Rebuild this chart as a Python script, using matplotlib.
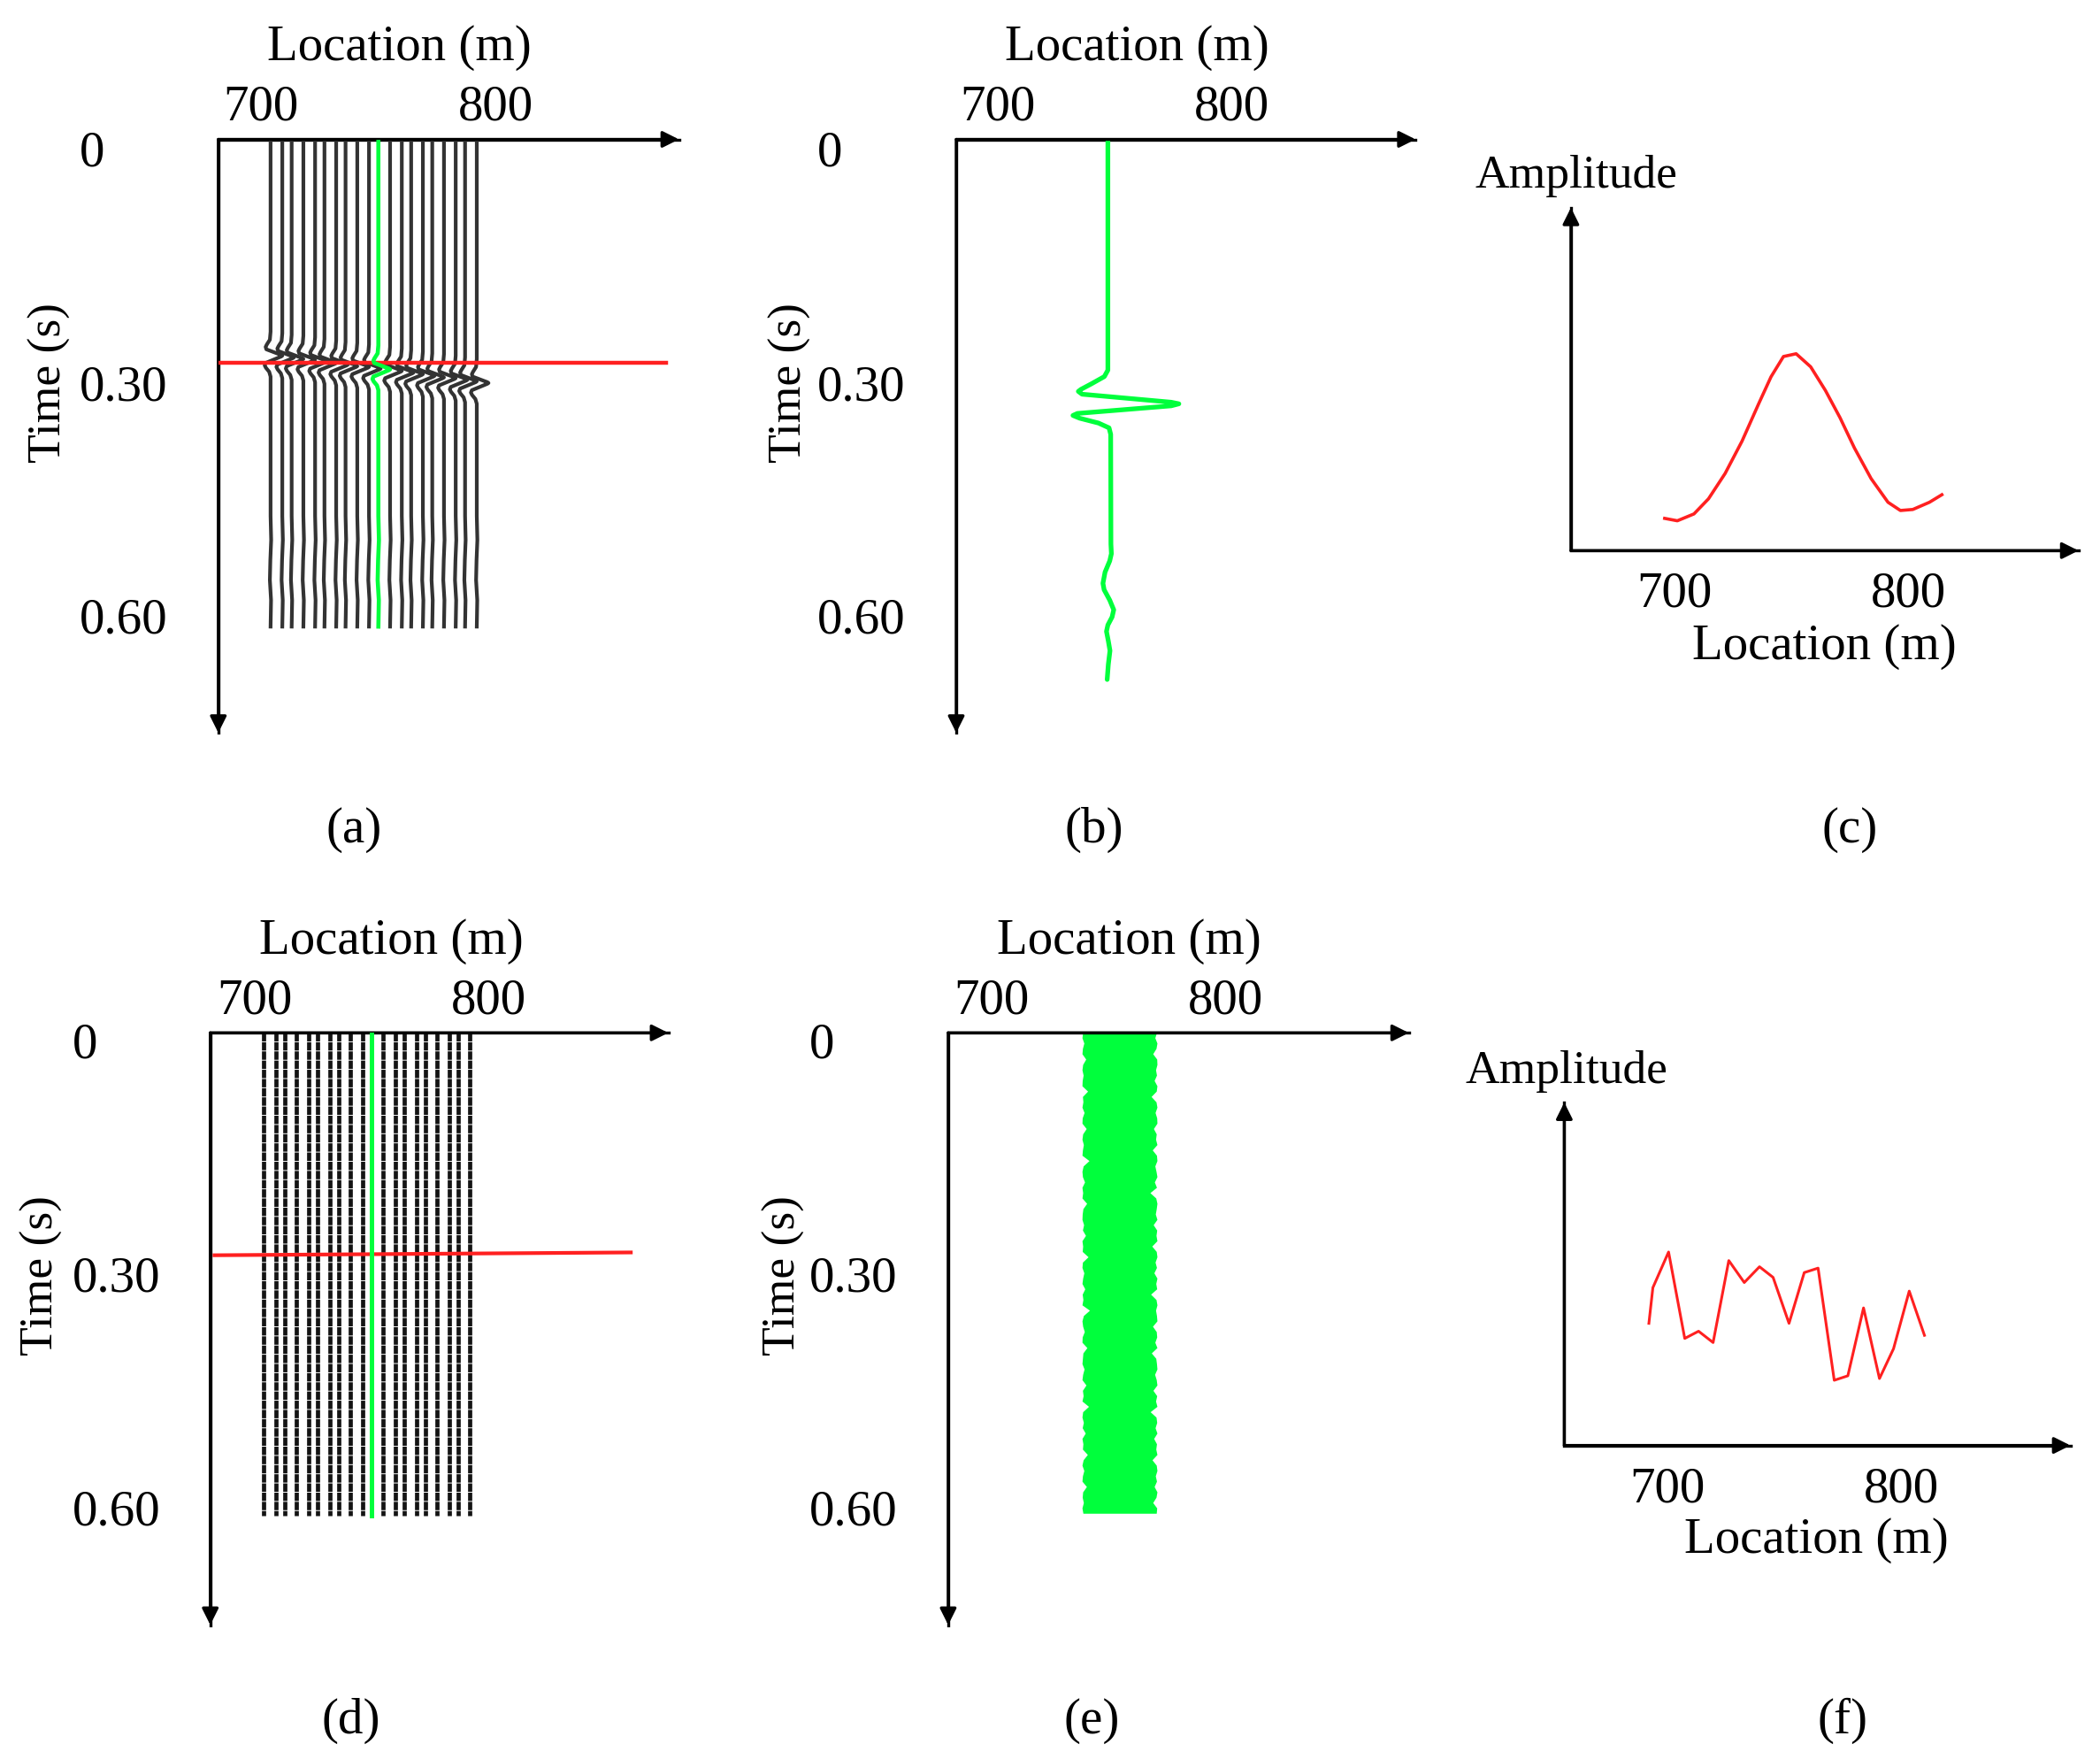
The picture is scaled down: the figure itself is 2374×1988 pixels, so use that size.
import numpy as np
import matplotlib
matplotlib.use("Agg")
import matplotlib.pyplot as plt
from matplotlib import transforms

plt.rcParams['font.family'] = ['Liberation Serif', 'DejaVu Serif']

W, H = 2374, 1988

# ---- data ----
# trace locations (m) for panels (a) and (d); index 10 is the green trace
trace_x = [704, 709, 713, 718, 723, 727, 732, 736, 741, 746,
           750, 755, 760, 764, 769, 773, 778, 783, 787, 792]
green_idx = 10
# time of the wavelet peak on each trace in (a), s
event_t = [0.270, 0.272, 0.274, 0.275, 0.277, 0.279, 0.281, 0.283, 0.284, 0.286,
           0.287, 0.289, 0.291, 0.293, 0.295, 0.297, 0.298, 0.300, 0.302, 0.304]
# wavelet on the (a) traces: time relative to the peak (s), offset (m)
a_dt = [-0.030, -0.020, -0.014, -0.011, -0.008, -0.001, 0.0, 0.001, 0.009, 0.012, 0.015, 0.020, 0.026]
a_amp = [0, -0.3, -1.6, -2.1, -1.8, 4.5, 5.0, 4.5, -2.1, -2.5, -2.0, -0.6, 0]
a_tail_t = [0.47, 0.50, 0.525, 0.55, 0.575, 0.608]
a_tail_amp = [0, 0.25, -0.1, -0.3, 0.2, 0]
a_red_t = 0.279
a_red_x = [681.7, 872.6]

# panel (b): single green trace
b_x = 747
b_t = [0.0, 0.288, 0.296, 0.305, 0.312, 0.3145, 0.318, 0.328, 0.330, 0.3325, 0.342,
       0.3445, 0.348, 0.354, 0.360, 0.368, 0.505, 0.517, 0.526, 0.540, 0.554, 0.562,
       0.575, 0.587, 0.596, 0.606, 0.614, 0.626, 0.638, 0.655, 0.674]
b_amp = [0, 0, -1.5, -7, -11.5, -12.6, -11, 27, 30.3, 27, -13,
         -14.9, -12, -4, 0.5, 1.2, 1.3, 1.5, 0.8, -1.2, -2.1, -1.6, 0.8, 2.5,
         1.8, 0.0, -0.6, 0.2, 0.9, 0.2, -0.3]

# panel (c): amplitude along the red line
c_loc = [696.0, 701.4, 708.5, 714.7, 721.8, 729.0, 736.1, 741.4, 746.7, 752.1,
         758.3, 764.6, 770.8, 777.0, 784.1, 791.3, 796.6, 801.9, 809.0, 814.3]
c_amp = [0.094, 0.087, 0.107, 0.151, 0.225, 0.319, 0.428, 0.507, 0.566, 0.574,
         0.536, 0.467, 0.388, 0.299, 0.210, 0.141, 0.117, 0.120, 0.141, 0.163]

# panel (d): noisy traces end time and red line
d_end_t = 0.603
d_red_x = [682.9, 860.6]
d_red_t = [0.2775, 0.274]

# panel (e): edges of the green noise band (m, measured inward)
e_left0, e_right0, e_end_t = 739.0, 771.0, 0.600
e_left_in = [0.3, 0, 0.8, 0.2, 0, 1.6, 0.3, 0, 0.5, 0.1, 0, 2.4, 0.2, 0.4, 0, 0.9, 0.1, 0,
             1.8, 0.3, 0, 0.6, 0.2, 0, 3.0, 0.5, 0, 0.2, 1.1, 0, 0.3, 0, 2.0, 0.4, 0.1, 0,
             0.7, 0.2, 1.5, 0, 0.3, 0.1, 2.6, 0.2, 0, 0.8, 0.3, 0, 1.2, 0.1, 0.4, 0, 3.2,
             0.6, 0, 0.3, 1.0, 0.1, 0, 2.1, 0.4, 0.2, 0, 0.9, 0.3, 0, 1.7, 0.2, 0.5, 0, 2.8,
             0.3, 0, 0.6, 0.1, 1.4, 0, 0.4, 0.2, 2.3, 0.5, 0, 0.8, 0.2, 0, 1.9, 0.3, 0.1,
             0.6, 0, 0.4]
e_right_in = [0.2, 0.9, 0, 0.4, 1.8, 0.1, 0, 0.6, 0.2, 1.2, 0, 0.3, 2.5, 0.4, 0, 0.8, 0.1,
              0, 1.5, 0.3, 0.6, 0, 2.0, 0.2, 0, 0.9, 0.4, 0, 1.1, 0.2, 3.0, 0.5, 0, 0.3, 0.7,
              0, 1.6, 0.1, 0.4, 0, 2.2, 0.3, 0, 0.8, 0.2, 1.3, 0, 0.5, 0.1, 2.7, 0.4, 0, 0.6,
              0.2, 0, 1.9, 0.3, 0.1, 0.9, 0, 2.4, 0.5, 0.2, 0, 1.0, 0.3, 0, 1.7, 0.1, 0.6, 0,
              2.9, 0.4, 0.1, 0.8, 0, 1.4, 0.2, 0.5, 0, 2.1, 0.3, 0, 0.7, 0.2, 1.2, 0, 0.4, 1.8,
              0.1, 0.3]

# panel (f): amplitude along the red line
f_loc = [692.1, 693.8, 700.5, 707.4, 713.3, 719.5, 726.2, 732.8, 739.3, 745.1,
         751.9, 758.4, 764.3, 771.2, 777.0, 783.7, 790.5, 796.5, 803.2, 809.7]
f_amp = [0.356, 0.460, 0.564, 0.312, 0.333, 0.300, 0.539, 0.475, 0.521, 0.490,
         0.356, 0.504, 0.517, 0.190, 0.203, 0.401, 0.195, 0.282, 0.450, 0.321]

GREEN = '#00ff3c'
RED = '#ff2020'
FS = 41
FS2 = 38.5
DY = 4  # small downward nudge for all texts, px

fig = plt.figure(figsize=(W / 100, H / 100), dpi=100)
fig.patch.set_facecolor('white')


def panel(box, xlim, ylim, top_axis=True):
    l, t, r, b = box
    ax = fig.add_axes([l / W, 1 - b / H, (r - l) / W, (b - t) / H])
    ax.set_xlim(xlim)
    ax.set_ylim(ylim)
    ax.axis('off')
    arrow = dict(arrowstyle='-|>', color='black', lw=2.4, mutation_scale=28,
                 shrinkA=0, shrinkB=0)
    oy = 1 if top_axis else 0
    ty = 0 if top_axis else 1
    ax.plot([0, 0, 1], [ty, oy, oy], color='black', lw=2.4, transform=ax.transAxes,
            clip_on=False, solid_capstyle='projecting', solid_joinstyle='miter')
    ax.annotate('', xy=(1, oy), xytext=(0, oy), xycoords='axes fraction', arrowprops=arrow)
    ax.annotate('', xy=(0, ty), xytext=(0, oy), xycoords='axes fraction', arrowprops=arrow)
    return ax


def ptext(x, y, s, size=FS, **kw):
    fig.text(x / W, 1 - (y + DY) / H, s, fontsize=size, ha=kw.pop('ha', 'center'),
             va=kw.pop('va', 'center'), **kw)


def xtick(ax, xval, ypx, s):
    tr = transforms.blended_transform_factory(ax.transData, fig.transFigure)
    ax.text(xval, 1 - (ypx + DY) / H, s, transform=tr, ha='center', va='center',
            fontsize=FS, clip_on=False)


# ---------- (a) ----------
ax = panel((246.8, 157.5, 767.6, 828.2), (681.7, 878.3), (0.7405, 0))
for i, x0 in enumerate(trace_x):
    if i == green_idx:
        continue
    t = [0.0] + [event_t[i] + d for d in a_dt] + a_tail_t
    x = [x0] + [x0 + v for v in a_amp] + [x0 + v for v in a_tail_amp]
    ax.plot(x, t, color='#333333', lw=3.0, zorder=2)
ax.plot(a_red_x, [a_red_t, a_red_t], color=RED, lw=3.2, zorder=3)
i = green_idx
ax.plot([trace_x[i]] + [trace_x[i] + v for v in a_amp] + [trace_x[i] + v for v in a_tail_amp],
        [0.0] + [event_t[i] + d for d in a_dt] + a_tail_t, color=GREEN, lw=3.3, zorder=4)

# ---------- (b) ----------
ax = panel((1081.0, 157.5, 1600.3, 828.2), (682.3, 878.3), (0.7405, 0))
ax.plot([b_x + v for v in b_amp], b_t, color=GREEN, lw=3.8,
        solid_joinstyle='round', solid_capstyle='round')

# ---------- (c) ----------
ax = panel((1775.9, 234.7, 2349.7, 622.3), (656.0, 872.6), (0, 1), top_axis=False)
ax.plot(c_loc, c_amp, color=RED, lw=2.6)

# ---------- (d) ----------
ax = panel((237.7, 1167.3, 755.5, 1836.5), (681.1, 876.6), (0.7388, 0))
for i, x0 in enumerate(trace_x):
    if i == green_idx:
        continue
    ax.plot([x0, x0], [0, d_end_t], color='#141414', lw=3.4,
            linestyle=(0, (2.0, 0.2)), zorder=2)
ax.plot(d_red_x, d_red_t, color=RED, lw=3.0, zorder=3)
ax.plot([trace_x[green_idx]] * 2, [0, d_end_t], color=GREEN, lw=3.6, zorder=4)

# ---------- (e) ----------
ax = panel((1071.9, 1167.3, 1592.7, 1836.5), (681.7, 878.3), (0.7388, 0))
tl = np.linspace(0, e_end_t, len(e_left_in))
tr_ = np.linspace(0, e_end_t, len(e_right_in))
band_x = [e_left0 + v for v in e_left_in] + [e_right0 - v for v in e_right_in[::-1]]
band_t = list(tl) + list(tr_[::-1])
ax.fill(band_x, band_t, color=GREEN, lw=0)

# ---------- (f) ----------
ax = panel((1768.4, 1246.0, 2340.6, 1633.6), (656.0, 872.0), (0, 1), top_axis=False)
ax.plot(f_loc, f_amp, color=RED, lw=2.2)

# ---------- texts ----------
axes = fig.axes
# top location labels and ticks
for ax_, cx, cy, ty in [(axes[0], 451, 50, 118), (axes[1], 1285, 50, 118),
                        (axes[3], 442, 1060, 1128), (axes[4], 1276, 1060, 1128)]:
    ptext(cx, cy, 'Location (m)')
    xtick(ax_, 700, ty, '700')
    xtick(ax_, 800, ty, '800')

# time labels
for lx, ys, tx, tyc in [(90, (170, 434.5, 698), 56, 428.5),
                        (924, (170, 434.5, 698), 893, 428.5),
                        (82, (1178, 1441, 1706), 47, 1438),
                        (915, (1178, 1441, 1706), 886, 1438)]:
    for y, s in zip(ys, ['0', '0.30', '0.60']):
        ptext(lx, y, s, ha='left')
    ptext(tx, tyc, 'Time (s)', size=FS2, rotation=90)

# amplitude panels
for ax_, ax_x, ax_y, ty, lx, ly in [(axes[2], 1782, 195, 668, 2062, 727),
                                    (axes[5], 1771, 1207, 1679, 2053, 1737)]:
    ptext(ax_x, ax_y, 'Amplitude', size=FS2)
    xtick(ax_, 700, ty, '700')
    xtick(ax_, 800, ty, '800')
    ptext(lx, ly, 'Location (m)')

# panel letters
for x, y, s in [(400, 934, '(a)'), (1237, 934, '(b)'), (2091, 934, '(c)'),
                (397, 1941, '(d)'), (1234, 1941, '(e)'), (2083, 1941, '(f)')]:
    ptext(x, y, s)

fig.savefig('out.png', dpi=100, facecolor='white')
